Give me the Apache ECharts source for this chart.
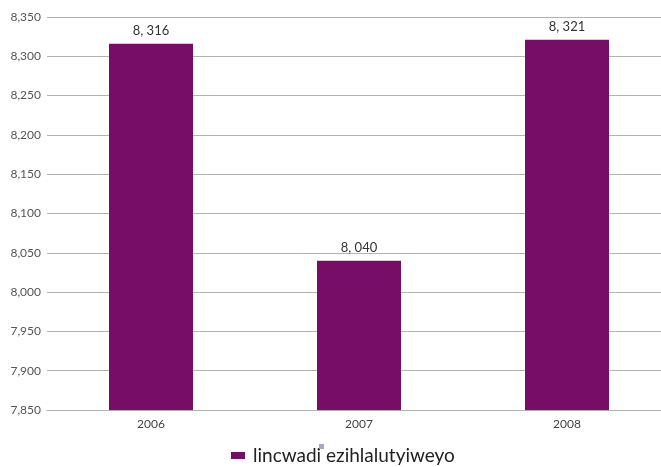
<!DOCTYPE html>
<html>
<head>
<meta charset="utf-8">
<script src="https://cdn.jsdelivr.net/npm/echarts@6/dist/echarts.min.js"></script>
<style>
  html, body { margin: 0; padding: 0; background: #fff; overflow: hidden; }
  #chart { width: 672px; height: 467px; }
</style>
</head>
<body>
<div id="chart"></div>
<script>
var years = ["2006", "2007", "2008"];
var books = [8316, 8040, 8321];
var seriesName = "lincwadi ezihlalutyiweyo";

var myChart = echarts.init(document.getElementById('chart'));
myChart.setOption({
  animation: false,
  textStyle: { fontFamily: "Lato" },
  grid: { left: 47, top: 17, right: 1, bottom: 57 },
  legend: {
    data: [seriesName],
    top: 441,
    left: 226,
    itemWidth: 14,
    itemHeight: 7,
    icon: 'rect',
    textStyle: { fontSize: 19, color: '#222', fontFamily: "Lato", padding: [0, 0, 0, 3] }
  },
  xAxis: {
    type: 'category',
    data: years,
    axisLine: { show: true, lineStyle: { color: '#b0b0b0' } },
    axisTick: { show: false },
    axisLabel: { color: '#444', fontSize: 12, margin: 8 }
  },
  yAxis: {
    type: 'value',
    min: 7850,
    max: 8350,
    interval: 50,
    axisLine: { show: false },
    axisTick: { show: false },
    splitLine: { lineStyle: { color: '#b3b3b3' } },
    axisLabel: {
      color: '#555', fontSize: 12, margin: 6,
      formatter: function (v) { return echarts.format.addCommas(v); }
    }
  },
  graphic: [{
    type: 'rect', left: 319, top: 444, z: 100,
    shape: { width: 5, height: 5 },
    style: { fill: '#a3a3d6' }
  }],
  series: [{
    name: seriesName,
    type: 'bar',
    data: books,
    barWidth: 84,
    itemStyle: { color: '#770d66' },
    label: {
      show: true,
      position: 'top',
      distance: 6,
      color: '#333',
      fontSize: 13,
      formatter: function (p) {
        var s = String(p.value);
        return s.slice(0, 1) + ', ' + s.slice(1);
      }
    }
  }]
});
</script>
</body>
</html>
